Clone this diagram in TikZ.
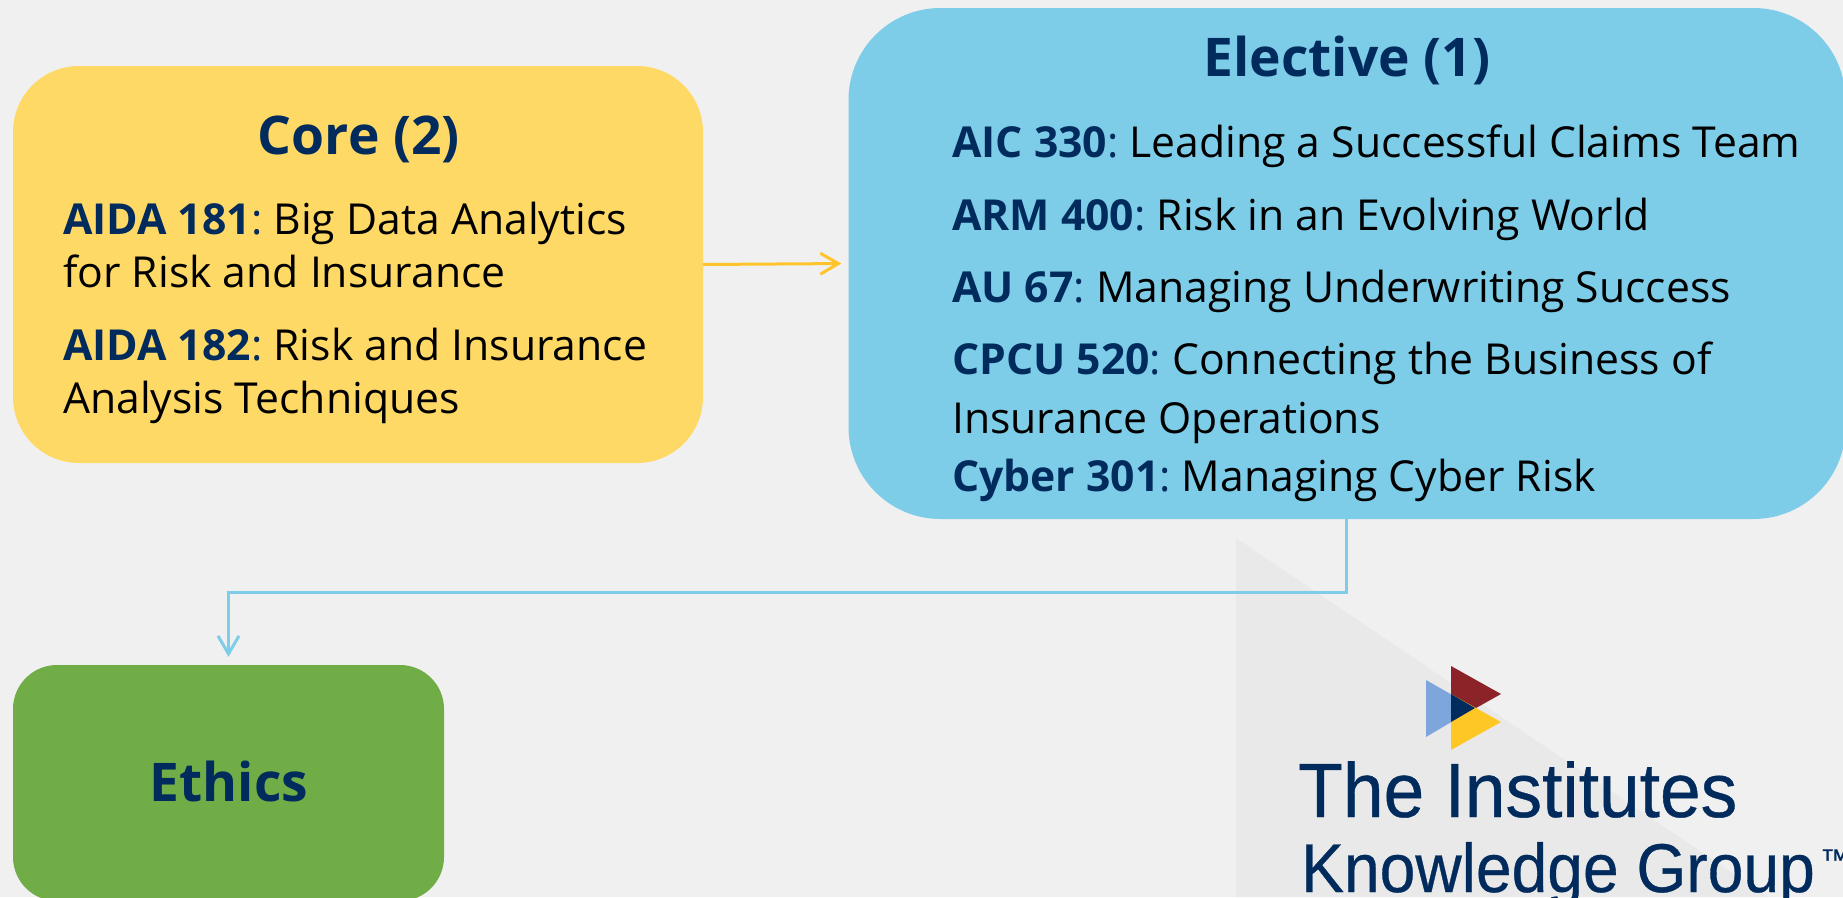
\documentclass[tikz,border=0pt]{standalone}
\usepackage{fontspec}
\setmainfont{Open Sans}
\newfontfamily\logofont[FakeBold=0.5]{Liberation Sans}
\usetikzlibrary{arrows.meta}
\definecolor{pagebg}{HTML}{F0F0F0}
\definecolor{wedgegrey}{HTML}{E9E9E9}
\definecolor{coreyellow}{HTML}{FFD966}
\definecolor{elecblue}{HTML}{7DCDE9}
\definecolor{ethgreen}{HTML}{70AD47}
\definecolor{navy}{HTML}{002B5C}
\definecolor{arrowgold}{HTML}{FFC42C}
\definecolor{logored}{HTML}{8C2329}
\definecolor{logoblue}{HTML}{7EA6DC}
\definecolor{logogold}{HTML}{FFC726}
\newcommand{\code}[1]{\textcolor{navy}{\textbf{#1}:}}
\tikzset{
  boxbase/.style={draw=none,inner sep=0pt,rounded corners=#1},
  title/.style={inner sep=0pt,anchor=base,text=navy,font=\fontsize{53.33}{60}\selectfont\bfseries},
  body/.style={inner sep=0pt,anchor=base west,text=black,font=\fontsize{42.67}{53}\selectfont\frenchspacing},
  link/.style={line width=3pt,-{Straight Barb[length=18pt,width=21pt,line width=3pt]}},
  logotext/.style={inner sep=0pt,anchor=base west,text=navy,font=\logofont},
}
\begin{document}
\begin{tikzpicture}[x=1pt,y=-1pt]
\useasboundingbox (0,0) rectangle (1843,897);
\fill[pagebg] (0,0) rectangle (1843,897);
\fill[wedgegrey] (1236,538) -- (1768,897) -- (1236,897) -- cycle;
% boxes
\node[boxbase=66pt,fill=coreyellow,minimum width=690pt,minimum height=397pt] (core) at (358,264.5) {};
\node[boxbase=92pt,fill=elecblue,minimum width=997pt,minimum height=511pt] (elective) at (1347,263.5) {};
\node[boxbase=44pt,fill=ethgreen,minimum width=431pt,minimum height=236pt] (ethics) at (228.5,783) {};
% connectors
\coordinate (drop) at (1346,592);
\draw[link,draw=arrowgold,shorten >=7pt] (core.east) -- (elective.west);
\draw[link,draw=elecblue,shorten >=8pt] (elective.south -| drop) -- (drop) -- (drop -| ethics.north) -- (ethics.north);
% core text
\node[title] (coretitle) at (359,154) {Core (2)};
\node[body] (c1a) at (63,234) {\code{AIDA 181} Big Data Analytics};
\node[body] (c1b) at (63,287) {for Risk and Insurance};
\node[body] (c2a) at (63,360) {\code{AIDA 182} Risk and Insurance};
\node[body] (c2b) at (63,413) {Analysis Techniques};
% elective text
\node[title] (electitle) at (1347,76) {Elective (1)};
\node[body] (e1) at (952,157) {\code{AIC 330} Leading a Successful Claims Team};
\node[body] (e2) at (952,230) {\code{ARM 400} Risk in an Evolving World};
\node[body] (e3) at (952,302) {\code{AU 67} Managing Underwriting Success};
\node[body] (e4a) at (952,374) {\code{CPCU 520} Connecting the Business of};
\node[body] (e4b) at (952,433) {Insurance Operations};
\node[body] (e5) at (952,491) {\code{Cyber 301} Managing Cyber Risk};
% ethics text
\node[title] (ethtitle) at (229,801) {Ethics};
% logo
\fill[logoblue] (1426,680) -- (1475,708) -- (1426,737) -- cycle;
\fill[logored] (1451,666) -- (1501,694) -- (1451,722) -- cycle;
\fill[logogold] (1451,694) -- (1501,722) -- (1451,750) -- cycle;
\fill[navy] (1451,694) -- (1475,708) -- (1451,722) -- cycle;
\node[logotext,font=\logofont\fontsize{77}{80}\selectfont] (logo1) at (1298,817) {\scalebox{.95}[1]{The Institutes}};
\node[logotext,font=\logofont\fontsize{69}{72}\selectfont] (logo2) at (1301,892) {\scalebox{.93}[1]{Knowledge Group}};
\node[logotext,font=\logofont\fontsize{30}{30}\selectfont] (logotm) at (1820,870) {™};
\end{tikzpicture}
\end{document}
